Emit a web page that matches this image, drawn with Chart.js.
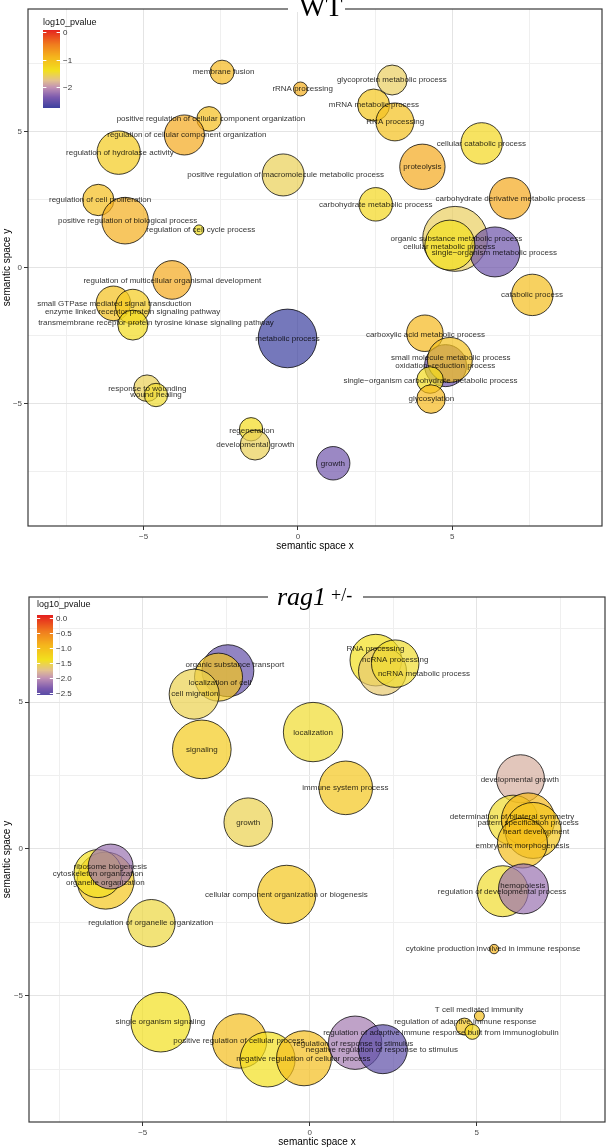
<!DOCTYPE html>
<html>
<head>
<meta charset="utf-8">
<script src="https://cdn.jsdelivr.net/npm/chart.js@4.4.0/dist/chart.umd.min.js"></script>
<style>
  html, body { margin: 0; padding: 0; background: #fff; }
  body { width: 607px; height: 1148px; position: relative; overflow: hidden; }
  canvas { position: absolute; left: 0; }
  #wt { top: 0; }
  #rag { top: 560px; }
</style>
</head>
<body>
<canvas id="wt" width="607" height="560"></canvas>
<canvas id="rag" width="607" height="588"></canvas>
<script>
// ---- WT panel ----
const wtTerms = [
  "membrane fusion", "rRNA processing", "glycoprotein metabolic process", "mRNA metabolic process",
  "RNA processing", "positive regulation of cellular component organization",
  "regulation of cellular component organization", "regulation of hydrolase activity",
  "cellular catabolic process", "proteolysis", "positive regulation of macromolecule metabolic process",
  "regulation of cell proliferation", "carbohydrate metabolic process",
  "carbohydrate derivative metabolic process", "positive regulation of biological process",
  "regulation of cell cycle process", "organic substance metabolic process",
  "single−organism metabolic process", "cellular metabolic process",
  "regulation of multicellular organismal development", "catabolic process",
  "small GTPase mediated signal transduction", "enzyme linked receptor protein signaling pathway",
  "transmembrane receptor protein tyrosine kinase signaling pathway", "metabolic process",
  "carboxylic acid metabolic process", "oxidation−reduction process", "small molecule metabolic process",
  "single−organism carbohydrate metabolic process", "glycosylation", "response to wounding",
  "wound healing", "regeneration", "developmental growth", "growth"
];
const wtX = [-2.46, 0.08, 3.05, 2.45, 3.14, -2.88, -3.68, -5.81, 5.95, 4.03, -0.48, -6.47, 2.52, 6.87, -5.60,
  -3.21, 5.09, 6.38, 4.92, -4.08, 7.59, -5.98, -5.35, -5.35, -0.34, 4.11, 4.78, 4.92, 4.28, 4.31, -4.89,
  -4.60, -1.52, -1.39, 1.14];
const wtY = [7.19, 6.57, 6.90, 5.98, 5.36, 5.47, 4.88, 4.23, 4.57, 3.71, 3.41, 2.49, 2.33, 2.55, 1.73,
  1.39, 1.06, 0.58, 0.83, -0.45, -1.00, -1.31, -1.43, -2.11, -2.60, -2.41, -3.60, -3.39, -4.13, -4.83, -4.43,
  -4.68, -5.94, -6.52, -7.19];
const wtSize = [1.71, 1.00, 2.14, 2.29, 2.71, 1.76, 2.86, 3.10, 2.96, 3.24, 3.00, 2.24, 2.39, 2.96, 3.33,
  0.71, 4.64, 3.57, 3.57, 2.76, 2.96, 2.47, 2.47, 2.14, 4.19, 2.61, 3.00, 3.21, 1.90, 2.04, 1.90,
  1.67, 1.67, 2.14, 2.39];
const wtPval = [-0.95, -0.85, -1.6, -1.1, -1.05, -1.0, -0.8, -1.15, -1.3, -0.8, -1.57, -1.0, -1.3, -0.8, -0.85,
  -1.4, -1.6, -2.45, -1.4, -0.8, -1.0, -1.05, -1.15, -1.35, -2.75, -0.95, -2.45, -1.05, -1.35, -0.95, -1.57,
  -1.45, -1.35, -1.57, -2.42];
const wtLabelX = [-2.41, 0.15, 3.04, 2.46, 3.15, -2.82, -3.60, -5.77, 5.94, 4.03, -0.40, -6.41, 2.52, 6.88, -5.52,
  -3.15, 5.13, 6.36, 4.90, -4.07, 7.58, -5.95, -5.36, -4.60, -0.34, 4.13, 4.77, 4.95, 4.29, 4.32, -4.88,
  -4.60, -1.50, -1.38, 1.13];
const wtLabelY = [7.21, 6.57, 6.90, 5.98, 5.36, 5.47, 4.88, 4.22, 4.57, 3.71, 3.41, 2.49, 2.32, 2.55, 1.73,
  1.39, 1.06, 0.55, 0.76, -0.48, -1.00, -1.33, -1.62, -2.02, -2.63, -2.45, -3.61, -3.33, -4.17, -4.83, -4.46,
  -4.68, -5.98, -6.52, -7.22];
const wtLegendTicks = [0, -1, -2];

// ---- rag1 +/- panel ----
const ragTerms = [
  "organic substance transport", "localization of cell", "cell migration", "signaling", "growth",
  "localization", "immune system process", "RNA processing", "ncRNA processing", "ncRNA metabolic process",
  "developmental growth", "determination of bilateral symmetry", "pattern specification process",
  "heart development", "embryonic morphogenesis", "regulation of developmental process", "hemopoiesis",
  "cytokine production involved in immune response", "T cell mediated immunity",
  "regulation of adaptive immune response", "regulation of adaptive immune response built from immunoglobulin",
  "organelle organization", "cytoskeleton organization", "ribosome biogenesis",
  "regulation of organelle organization", "cellular component organization or biogenesis",
  "single organism signaling", "positive regulation of cellular process", "",
  "negative regulation of cellular process", "regulation of response to stimulus",
  "negative regulation of response to stimulus"
];
const ragX = [-2.45, -2.73, -3.46, -3.23, -1.84, 0.10, 1.08, 1.98, 2.18, 2.56, 6.31, 6.09, 6.54, 6.69, 6.37,
  5.78, 6.40, 5.52, 5.08, 4.63, 4.87, -6.11, -6.34, -5.96, -4.74, -0.69, -4.46, -2.10, -1.26, -0.17, 1.36, 2.19];
const ragY = [6.07, 5.85, 5.27, 3.39, 0.91, 3.98, 2.08, 6.43, 6.05, 6.31, 2.39, 0.98, 1.00, 0.63, 0.20,
  -1.44, -1.36, -3.41, -5.69, -6.05, -6.23, -1.08, -0.84, -0.60, -2.53, -1.55, -5.90, -6.54, -7.17, -7.13, -6.60, -6.82];
const ragSize = [3.71, 3.43, 3.57, 4.19, 3.47, 4.24, 3.83, 3.69, 3.43, 3.39, 3.43, 3.57, 3.81, 4.00, 3.57,
  3.64, 3.57, 0.67, 0.71, 1.21, 1.07, 4.07, 3.43, 3.21, 3.39, 4.17, 4.26, 3.89, 3.93, 3.93, 3.81, 3.50];
const ragPval = [-2.5, -1.1, -1.55, -1.15, -1.55, -1.45, -1.1, -1.4, -1.65, -1.45, -1.85, -1.45, -0.95, -1.1, -1.0,
  -1.45, -2.2, -0.9, -1.0, -1.1, -1.3, -1.1, -1.4, -2.2, -1.5, -1.1, -1.4, -1.0, -1.4, -1.0, -2.15, -2.55];
const ragLabelX = [-2.24, -2.69, -3.44, -3.23, -1.84, 0.10, 1.07, 1.97, 2.56, 3.42, 6.29, 6.06, 6.54, 6.78, 6.37,
  5.76, 6.38, 5.49, 5.07, 4.66, 3.93, -6.12, -6.34, -5.97, -4.76, -0.70, -4.47, -2.12, null, -0.19, 1.31, 2.16];
const ragLabelY = [6.26, 5.65, 5.29, 3.37, 0.89, 3.96, 2.08, 6.80, 6.43, 5.98, 2.37, 1.08, 0.89, 0.57, 0.09,
  -1.46, -1.24, -3.41, -5.48, -5.90, -6.26, -1.14, -0.85, -0.61, -2.53, -1.56, -5.90, -6.54, null, -7.16, -6.62, -6.85];
const ragLegendTicks = [0, -0.5, -1, -1.5, -2, -2.5];

const gridSteps = [-7.5, -5, -2.5, 0, 2.5, 5, 7.5];

// colour scale for log10 p-value (blue -> purple -> tan -> yellow -> orange -> red)
const colourStops = [
  [-2.75, [59, 63, 158]],
  [-2.35, [124, 90, 174]],
  [-2.0, [194, 146, 180]],
  [-1.75, [226, 192, 144]],
  [-1.4, [242, 224, 30]],
  [-0.9, [245, 180, 28]],
  [-0.45, [240, 124, 30]],
  [0.1, [228, 30, 30]]
];

const SANS = '"Liberation Sans", Arial, Helvetica, sans-serif';
const SERIF = '"Liberation Serif", "Times New Roman", serif';
const SIZE_PX = 7; // bubble radius (px) per unit of size
Chart.defaults.font.family = SANS;

function pColour(p) {
  const s = colourStops;
  if (p <= s[0][0]) return s[0][1];
  if (p >= s[s.length - 1][0]) return s[s.length - 1][1];
  for (let i = 1; i < s.length; i++) {
    if (p <= s[i][0]) {
      const t = (p - s[i - 1][0]) / (s[i][0] - s[i - 1][0]);
      return s[i - 1][1].map((c, k) => Math.round(c + (s[i][1][k] - c) * t));
    }
  }
}
function rgba(p, a) {
  const c = pColour(p);
  return `rgba(${c[0]},${c[1]},${c[2]},${a})`;
}
function fmt(v, digits) {
  const s = Math.abs(v).toFixed(digits || 0);
  return v < 0 ? '\u2212' + s : s;
}
const isMajor = v => Math.abs(v % 5) < 1e-9;

function decor(d) {
  return {
    id: 'decor_' + d.id,
    afterDatasetsDraw(chart) {
      const { ctx, chartArea: a, scales: { x, y } } = chart;
      ctx.save();
      // term labels
      ctx.font = `8px ${SANS}`;
      ctx.fillStyle = 'rgba(0,0,0,0.82)';
      ctx.textAlign = 'center';
      ctx.textBaseline = 'middle';
      d.terms.forEach((t, i) => {
        if (!t || d.lx[i] == null) return;
        ctx.fillText(t, x.getPixelForValue(d.lx[i]), y.getPixelForValue(d.ly[i]));
      });
      // panel border
      ctx.strokeStyle = '#3a3a3a';
      ctx.lineWidth = 1.2;
      ctx.strokeRect(a.left, a.top, a.right - a.left, a.bottom - a.top);
      // title sitting on the top border
      ctx.fillStyle = '#fff';
      ctx.fillRect(d.gap[0], a.top - 3, d.gap[1] - d.gap[0], 6);
      ctx.fillStyle = '#000';
      ctx.textAlign = 'left';
      ctx.textBaseline = 'alphabetic';
      d.title.forEach(p => { ctx.font = p.font; ctx.fillText(p.text, p.x, p.y); });
      // colour bar legend
      const L = d.legend;
      ctx.font = `9px ${SANS}`;
      ctx.fillStyle = '#111';
      ctx.textBaseline = 'middle';
      ctx.fillText('log10_pvalue', L.x, L.titleY);
      for (let i = 0; i < L.h; i++) {
        const v = L.max - (i + 0.5) / L.h * (L.max - L.min);
        ctx.fillStyle = rgba(v, 1);
        ctx.fillRect(L.x, L.y + i, L.w, 1);
      }
      ctx.font = `8px ${SANS}`;
      L.ticks.forEach(v => {
        const py = Math.round(L.y + (L.max - v) / (L.max - L.min) * L.h) + 0.5;
        ctx.strokeStyle = '#fff';
        ctx.lineWidth = 1;
        ctx.beginPath();
        ctx.moveTo(L.x, py); ctx.lineTo(L.x + L.w * 0.2, py);
        ctx.moveTo(L.x + L.w * 0.8, py); ctx.lineTo(L.x + L.w, py);
        ctx.stroke();
        ctx.fillStyle = '#333';
        ctx.fillText(fmt(v, L.digits), L.x + L.w + 3, py);
      });
      ctx.restore();
    }
  };
}

function axis(horiz, d) {
  return {
    type: 'linear',
    min: horiz ? d.xMin : d.yMin,
    max: horiz ? d.xMax : d.yMax,
    afterBuildTicks: s => { s.ticks = gridSteps.map(v => ({ value: v })); },
    afterFit: s => { if (horiz) s.height = d.xAxisH; else s.width = d.yAxisW; },
    border: { display: false },
    grid: {
      color: c => (c.tick && isMajor(c.tick.value)) ? '#e4e4e4' : '#efefef',
      lineWidth: 1,
      drawTicks: true,
      tickLength: 4,
      tickColor: c => (c.tick && isMajor(c.tick.value)) ? '#333' : 'rgba(0,0,0,0)'
    },
    ticks: {
      autoSkip: false, maxRotation: 0, padding: 2, color: '#4d4d4d',
      font: { size: 8 },
      callback: v => isMajor(v) ? fmt(v) : ''
    },
    title: {
      display: true,
      text: horiz ? 'semantic space x' : 'semantic space y',
      color: '#000',
      font: { size: 10 },
      padding: horiz ? { top: 0, bottom: d.xTitlePad } : { top: 1.5, bottom: 0 }
    }
  };
}

function makePanel(d) {
  const points = d.x.map((v, i) => ({ x: v, y: d.y[i], r: d.size[i] * SIZE_PX }));
  return new Chart(document.getElementById(d.id), {
    type: 'bubble',
    data: {
      datasets: [{
        data: points,
        backgroundColor: d.p.map(v => rgba(v, 0.7)),
        borderColor: 'rgba(0,0,0,0.75)',
        borderWidth: 1
      }]
    },
    options: {
      responsive: false,
      animation: false,
      events: [],
      layout: { autoPadding: false, padding: d.padding },
      plugins: { legend: { display: false }, tooltip: { enabled: false } },
      scales: { x: axis(true, d), y: axis(false, d) }
    },
    plugins: [decor(d)]
  });
}

makePanel({
  id: 'wt', terms: wtTerms, x: wtX, y: wtY, size: wtSize, p: wtPval, lx: wtLabelX, ly: wtLabelY,
  xMin: -8.746, xMax: 9.848, yMin: -9.496, yMax: 9.511,
  padding: { left: 0, top: 9, right: 5, bottom: 0 }, yAxisW: 28, xAxisH: 34, xTitlePad: 8,
  gap: [288, 345],
  title: [{ text: 'WT', font: `28px ${SERIF}`, x: 299, y: 16 }],
  legend: { x: 43, titleY: 23, y: 30, w: 17, h: 78, min: -2.74, max: 0.07, ticks: wtLegendTicks, digits: 0 }
});

makePanel({
  id: 'rag', terms: ragTerms, x: ragX, y: ragY, size: ragSize, p: ragPval, lx: ragLabelX, ly: ragLabelY,
  xMin: -8.404, xMax: 8.841, yMin: -9.30, yMax: 8.58,
  padding: { left: 0, top: 37, right: 2, bottom: 0 }, yAxisW: 29, xAxisH: 26, xTitlePad: 0,
  gap: [268, 363],
  title: [
    { text: 'rag1', font: `italic 26px ${SERIF}`, x: 277, y: 45 },
    { text: '+/-', font: `18px ${SERIF}`, x: 331, y: 41 }
  ],
  legend: { x: 37, titleY: 45, y: 55, w: 16, h: 80, min: -2.57, max: 0.1, ticks: ragLegendTicks, digits: 1 }
});
</script>
</body>
</html>
